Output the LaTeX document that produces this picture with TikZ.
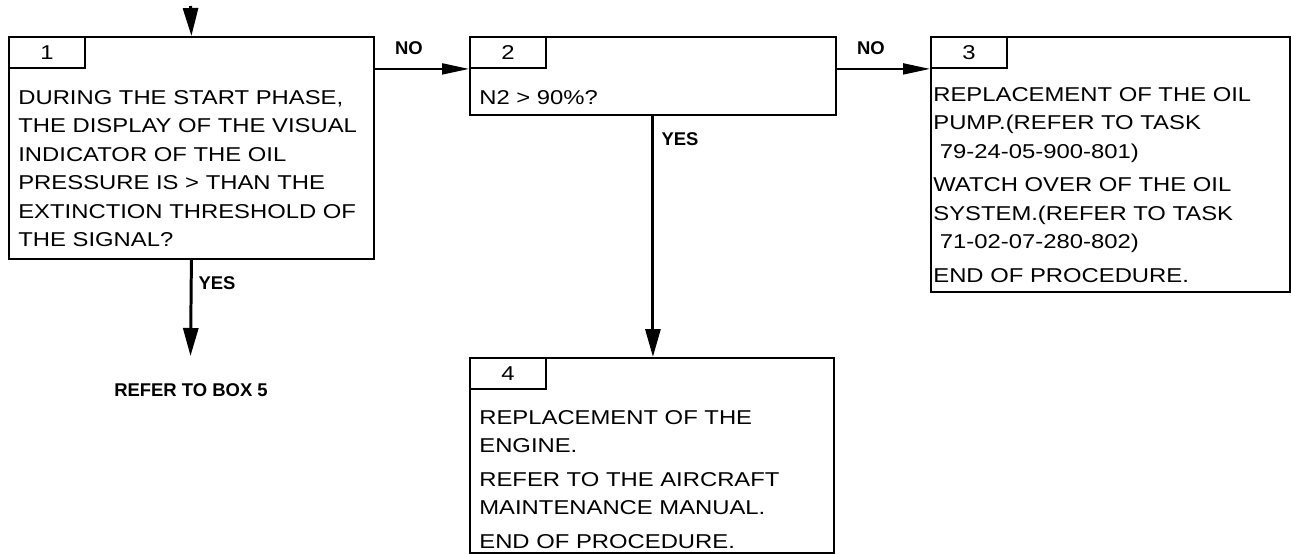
\documentclass[tikz,border=0pt]{standalone}
\usepackage{fontspec}
\setmainfont{Liberation Sans}
\newfontfamily\boxfont[FakeStretch=1.19]{Liberation Sans}
\usepackage{tikz}
\usetikzlibrary{arrows.meta,positioning}

\begin{document}
\begin{tikzpicture}[x=0.02cm, y=-0.02cm,
    box/.style={rectangle, draw=black, line width=1.1pt, anchor=north west, inner sep=0pt},
    tabbox/.style={rectangle, draw=black, line width=1.1pt, anchor=north west, minimum width=1.52cm, minimum height=0.62cm, inner sep=0pt, font=\boxfont\fontsize{11.4}{13}\selectfont},
    boxtext/.style={anchor=north west, inner sep=0pt, align=left, font=\boxfont\fontsize{11.4}{16.2}\selectfont},
    flowlabel/.style={inner sep=0pt, font=\bfseries\fontsize{10.5}{12}\selectfont},
    flow/.style={-{Triangle[length=0.56cm, width=0.3cm]}, line width=1.7pt},
    hflow/.style={-{Triangle[length=0.54cm, width=0.22cm]}, line width=1.1pt}
]
\useasboundingbox (0,0) rectangle (1291,554);

\node[box, minimum width=7.3cm, minimum height=4.44cm] (b1) at (8,36) {};
\node[box, minimum width=7.32cm, minimum height=1.56cm] (b2) at (469,36) {};
\node[box, minimum width=7.18cm, minimum height=5.1cm] (b3) at (930,36) {};
\node[box, minimum width=7.28cm, minimum height=3.9cm] (b4) at (469,357) {};

\node[tabbox] (t1) at (b1.north west) {1};
\node[tabbox] (t2) at (b2.north west) {2};
\node[tabbox] (t3) at (b3.north west) {3};
\node[tabbox] (t4) at (b4.north west) {4};

\node[boxtext, below right=1.08cm and 0.2cm of b1.north west] (x1) {DURING THE START PHASE,\\ THE DISPLAY OF THE VISUAL\\ INDICATOR OF THE OIL\\ PRESSURE IS > THAN THE\\ EXTINCTION THRESHOLD OF\\ THE SIGNAL?};
\node[boxtext, below right=1.08cm and 0.2cm of b2.north west] (x2) {N2 > 90\%?};
\node[boxtext, below right=1.02cm and 0.06cm of b3.north west] (x3) {REPLACEMENT OF THE OIL\\ PUMP.(REFER TO TASK\\ ~79-24-05-900-801)\\[0.1cm] WATCH OVER OF THE OIL\\ SYSTEM.(REFER TO TASK\\ ~71-02-07-280-802)\\[0.1cm] END OF PROCEDURE.};
\node[boxtext, below right=1.06cm and 0.2cm of b4.north west] (x4) {REPLACEMENT OF THE\\ ENGINE.\\[0.1cm] REFER TO THE AIRCRAFT\\ MAINTENANCE MANUAL.\\[0.1cm] END OF PROCEDURE.};

\coordinate (in1) at (190.5,6);
\coordinate (out1) at (190.5,356);
\node[flowlabel] (ref5) at (191,390) {REFER TO BOX 5};

\node[flowlabel] (no1) at (409,48) {NO};
\node[flowlabel] (no2) at (871,48) {NO};
\node[flowlabel] (yes1) at (217,283) {YES};
\node[flowlabel] (yes2) at (680,139) {YES};

\draw[flow] (in1) -- (b1.north);
\draw[hflow] (b1.east |- t2.south west) -- (t2.south west);
\draw[hflow] (b2.east |- t3.south west) -- (t3.south west);
\draw[flow] (b1.south) -- (out1);
\draw[flow] (b2.south) -- (b2.south |- b4.north);
\end{tikzpicture}
\end{document}
